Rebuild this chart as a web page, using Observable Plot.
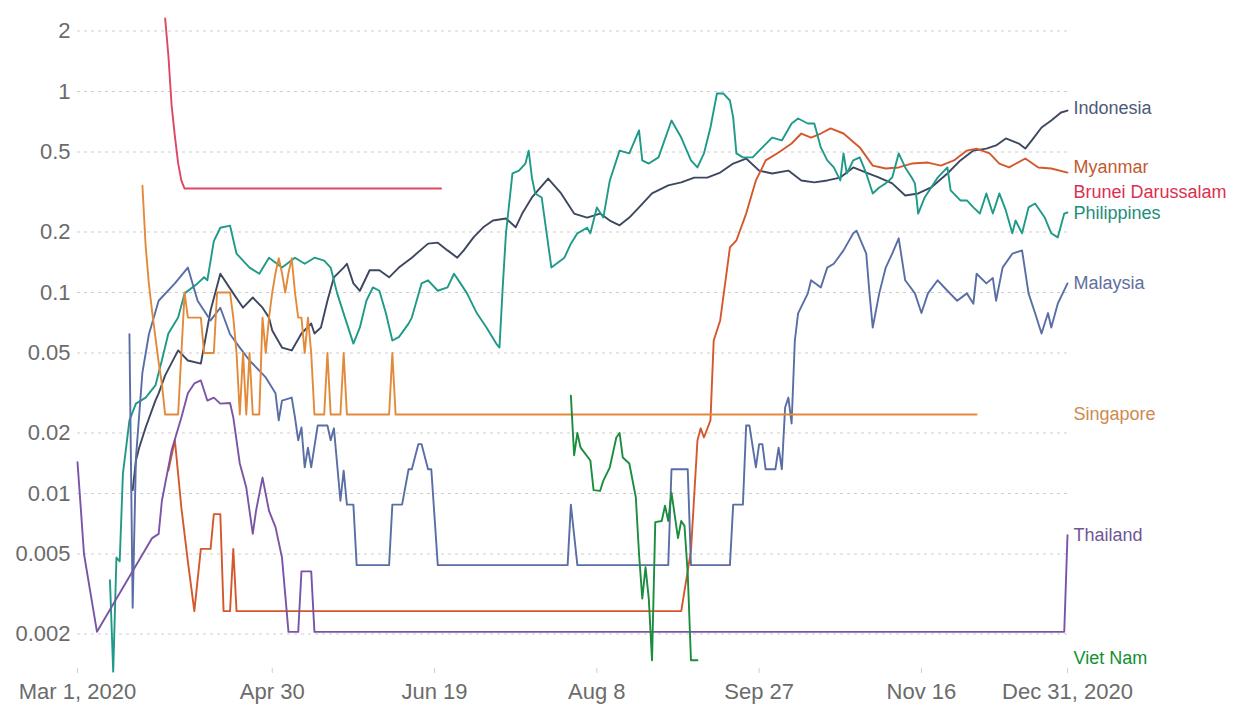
<!DOCTYPE html>
<html><head><meta charset="utf-8">
<script src="https://cdn.jsdelivr.net/npm/d3@7"></script>
<script src="https://cdn.jsdelivr.net/npm/@observablehq/plot@0.6"></script>
<style>body{margin:0;background:#fff;} #chart{width:1239px;height:708px;}</style>
</head><body><div id="chart"></div>
<script>
// ---- data (days since 2020-03-01, daily deaths per million) ----
const startDate = "2020-03-01";
const endDay = 305; // Dec 31, 2020

const countries = ["Indonesia","Myanmar","Brunei Darussalam","Philippines","Malaysia","Singapore","Thailand","Viet Nam"];
const lineColors = ["#3d4760","#d4582c","#dc4862","#1f9a88","#5a6ea6","#e38a3a","#7a55a6","#1b8d3e"];
const labelColors = ["#4d5a76","#bf5b2f","#dc2f50","#238c7c","#5f6f9c","#cf8a4c","#6f5696","#12902f"];
const labelNudge = [-2,-5,4,1,0,0,0,-2];

const indonesiaDays = [17,18,19,21,24,25,27,31,34,38,41,44,48,51,54,57,59,60,63,66,69,72,73,75,77,79,82,83,85,87,90,93,96,99,103,108,111,114,117,119,122,125,128,132,135,137,140,145,149,153,157,161,164,167,170,173,177,182,186,190,194,198,202,206,210,214,219,223,227,231,235,239,243,247,251,255,259,263,268,272,276,280,283,286,290,292,294,297,300,303,305];
const indonesiaValues = [0.0104,0.0146,0.0169,0.0213,0.029,0.0315,0.0387,0.0515,0.0459,0.0443,0.0814,0.124,0.099,0.084,0.0944,0.084,0.075,0.0647,0.0532,0.0515,0.0625,0.0701,0.0625,0.067,0.091,0.119,0.133,0.139,0.111,0.102,0.129,0.129,0.119,0.133,0.149,0.175,0.177,0.162,0.149,0.162,0.188,0.211,0.228,0.2335,0.211,0.247,0.297,0.369,0.311,0.247,0.236,0.247,0.228,0.216,0.236,0.265,0.311,0.341,0.353,0.373,0.373,0.395,0.438,0.464,0.404,0.391,0.404,0.361,0.353,0.361,0.373,0.419,0.395,0.373,0.349,0.304,0.311,0.333,0.391,0.454,0.508,0.52,0.539,0.584,0.551,0.52,0.571,0.662,0.717,0.786,0.804];

const myanmarDays = [28,30,32,34,36,38,41,42,44,45,47,48,49,186,189,191,192,193,195,196,198,201,203,206,209,211,212,216,220,223,226,229,232,236,241,245,249,253,257,262,266,270,274,277,281,284,287,292,296,300,305];
const myanmarValues = [0.013,0.0184,0.0085,0.0046,0.0026,0.0053,0.0053,0.0079,0.0079,0.0026,0.0026,0.0053,0.0026,0.0026,0.0052,0.0184,0.0211,0.019,0.0231,0.0577,0.0726,0.1675,0.1815,0.247,0.361,0.419,0.454,0.497,0.551,0.618,0.59,0.618,0.655,0.618,0.527,0.428,0.414,0.419,0.438,0.443,0.428,0.454,0.508,0.52,0.492,0.438,0.419,0.464,0.419,0.414,0.395];

const bruneiDays = [27,28,29,30,31,32,33,112];
const bruneiValues = [2.31,1.51,0.85,0.6,0.44,0.36,0.329,0.329];

const philippinesDays = [10,11,12,13,14,16,18,21,24,26,28,31,33,37,39,40,42,44,47,49,53,56,59,63,67,70,73,76,78,80,83,85,87,89,91,93,95,97,99,102,103,106,108,111,114,116,118,120,123,126,129,130,131,132,134,136,138,139,140,141,143,146,150,152,154,157,158,160,162,164,167,170,173,174,176,179,183,186,189,191,193,195,197,199,201,202,203,205,208,211,214,217,220,222,225,227,229,231,233,235,236,237,239,241,243,245,247,249,251,253,255,257,258,259,261,263,265,268,269,272,274,276,278,280,282,284,286,288,289,291,293,295,298,300,302,304,305];
const philippinesValues = [0.0037,0.0013,0.0048,0.0046,0.0126,0.0231,0.028,0.030,0.0345,0.046,0.0625,0.075,0.099,0.111,0.119,0.115,0.18,0.21,0.215,0.156,0.133,0.124,0.149,0.133,0.149,0.139,0.149,0.144,0.133,0.099,0.07,0.0557,0.067,0.091,0.106,0.102,0.079,0.0577,0.06,0.07,0.075,0.111,0.115,0.102,0.106,0.124,0.111,0.099,0.079,0.067,0.0557,0.0532,0.106,0.197,0.391,0.404,0.438,0.508,0.373,0.311,0.297,0.133,0.149,0.175,0.197,0.21,0.197,0.265,0.236,0.361,0.508,0.492,0.64,0.454,0.438,0.47,0.717,0.59,0.454,0.419,0.492,0.662,0.977,0.977,0.902,0.743,0.492,0.47,0.47,0.527,0.59,0.571,0.693,0.734,0.693,0.693,0.527,0.454,0.419,0.361,0.492,0.391,0.454,0.47,0.391,0.311,0.333,0.349,0.373,0.492,0.419,0.373,0.349,0.247,0.297,0.333,0.373,0.419,0.322,0.287,0.287,0.265,0.247,0.311,0.247,0.311,0.256,0.197,0.228,0.197,0.265,0.277,0.236,0.197,0.188,0.247,0.25];

const malaysiaDays = [16,17,18,20,22,25,30,34,37,41,44,47,50,53,58,61,62,63,66,67,68,69,70,71,72,74,77,78,79,81,82,83,85,86,96,97,100,102,103,105,106,108,109,111,151,152,154,182,183,188,189,201,202,205,206,207,209,210,211,212,215,216,217,218,219,220,221,222,225,226,229,231,233,236,239,240,243,244,245,247,249,251,253,255,258,260,262,265,268,271,274,276,277,280,282,283,285,288,291,293,295,297,299,300,302,305];
const malaysiaValues = [0.062,0.0027,0.015,0.04,0.062,0.091,0.111,0.133,0.091,0.0726,0.084,0.062,0.0532,0.0459,0.0378,0.0315,0.0231,0.029,0.030,0.0239,0.0184,0.0213,0.0135,0.0169,0.0135,0.0218,0.0218,0.0184,0.0211,0.0092,0.013,0.0088,0.0088,0.0044,0.0044,0.0088,0.0088,0.0132,0.0132,0.0176,0.0176,0.0132,0.0132,0.0044,0.0044,0.0088,0.0044,0.0044,0.0132,0.0132,0.0044,0.0044,0.0088,0.0088,0.0218,0.0218,0.0135,0.0176,0.0176,0.0132,0.0132,0.0169,0.0132,0.0268,0.030,0.0223,0.0577,0.0787,0.099,0.115,0.106,0.133,0.139,0.162,0.197,0.203,0.156,0.099,0.067,0.099,0.133,0.156,0.186,0.115,0.099,0.079,0.099,0.115,0.102,0.091,0.099,0.088,0.124,0.111,0.118,0.091,0.133,0.156,0.162,0.099,0.079,0.0625,0.079,0.067,0.088,0.111];

const singaporeDays = [20,21,22,23,24,25,26,27,31,33,34,38,39,42,43,47,48,49,50,51,52,53,54,56,57,58,59,60,61,62,63,64,65,66,67,68,69,70,71,72,73,76,77,78,81,82,83,96,97,98,277];
const singaporeValues = [0.34,0.17,0.11,0.08,0.06,0.045,0.035,0.0247,0.0247,0.1,0.075,0.075,0.05,0.05,0.1,0.1,0.075,0.05,0.0247,0.05,0.0247,0.05,0.0247,0.0247,0.075,0.05,0.075,0.1,0.125,0.148,0.125,0.1,0.125,0.148,0.1,0.075,0.075,0.05,0.075,0.05,0.0247,0.0247,0.05,0.0247,0.0247,0.05,0.0247,0.0247,0.05,0.0247,0.0247];

const thailandDays = [0,1,2,6,23,25,26,29,32,34,36,38,40,42,44,47,48,50,52,54,55,57,59,61,63,65,68,69,72,73,304,305];
const thailandValues = [0.0143,0.0085,0.005,0.00205,0.006,0.0063,0.0092,0.0164,0.0239,0.0315,0.0353,0.0365,0.029,0.03,0.028,0.0282,0.0239,0.0141,0.0107,0.0063,0.0082,0.012,0.0082,0.0068,0.0048,0.00205,0.00205,0.0041,0.0041,0.00205,0.00205,0.0062];

const vietnamDays = [152,153,154,155,158,159,161,162,164,166,167,168,170,172,173,174,175,176,177,178,180,181,182,183,185,186,187,188,189,191];
const vietnamValues = [0.0307,0.0155,0.02,0.0169,0.0146,0.0104,0.0103,0.0116,0.0135,0.019,0.02,0.0151,0.0141,0.0096,0.005,0.003,0.0043,0.003,0.00148,0.0072,0.0073,0.0087,0.0073,0.0101,0.006,0.0073,0.0069,0.004,0.00148,0.00148];

const yTicks = [0.002,0.005,0.01,0.02,0.05,0.1,0.2,0.5,1,2];
const xTickDays = [0,60,110,160,210,260,305];
const xTickLabels = ["Mar 1, 2020","Apr 30","Jun 19","Aug 8","Sep 27","Nov 16","Dec 31, 2020"];

// ---- build ----
const t0 = new Date(startDate + "T00:00:00Z").getTime();
const toDate = d => new Date(t0 + d * 864e5);
const seriesDays = [indonesiaDays, myanmarDays, bruneiDays, philippinesDays, malaysiaDays, singaporeDays, thailandDays, vietnamDays];
const seriesValues = [indonesiaValues, myanmarValues, bruneiValues, philippinesValues, malaysiaValues, singaporeValues, thailandValues, vietnamValues];

const rows = [];
countries.forEach((c, i) => {
  seriesDays[i].forEach((d, j) => rows.push({country: c, date: toDate(d), value: seriesValues[i][j]}));
});
const xTickDates = xTickDays.map(toDate);
const tickLabelOf = d => xTickLabels[xTickDates.findIndex(t => +t === +d)];

const labelMarks = countries.map((c, i) => Plot.text(
  [{country: c, date: toDate(endDay), value: seriesValues[i][seriesValues[i].length - 1]}],
  {x: "date", y: "value", text: "country", fill: labelColors[i], dx: 6, dy: labelNudge[i],
   textAnchor: "start", lineAnchor: "middle", fontSize: 18}
));

const chart = Plot.plot({
  width: 1239,
  height: 708,
  marginLeft: 77,
  marginRight: 172,
  marginTop: 10,
  marginBottom: 40,
  style: {fontFamily: "'Liberation Sans', Arial, sans-serif", background: "#fff", overflow: "visible"},
  x: {type: "utc", domain: [toDate(0), toDate(endDay)]},
  y: {type: "log", domain: [0.001347, 2.529]},
  color: {domain: countries, range: lineColors},
  marks: [
    Plot.gridY(yTicks, {stroke: "#cdcdcd", strokeOpacity: 1, strokeDasharray: "3,4"}),
    Plot.axisY(yTicks, {tickSize: 0, tickPadding: 7, fontSize: 22, fill: "#6b6b6b", tickFormat: d => String(d), label: null}),
    Plot.axisX(xTickDates, {tickSize: 5, tickPadding: 10, fontSize: 22, fill: "#6b6b6b", stroke: "#cfcfcf", tickFormat: tickLabelOf, label: null}),
    Plot.line(rows, {x: "date", y: "value", z: "country", stroke: "country", strokeWidth: 1.9, curve: "linear"}),
    ...labelMarks
  ]
});
document.getElementById("chart").appendChild(chart);
</script>
</body></html>
